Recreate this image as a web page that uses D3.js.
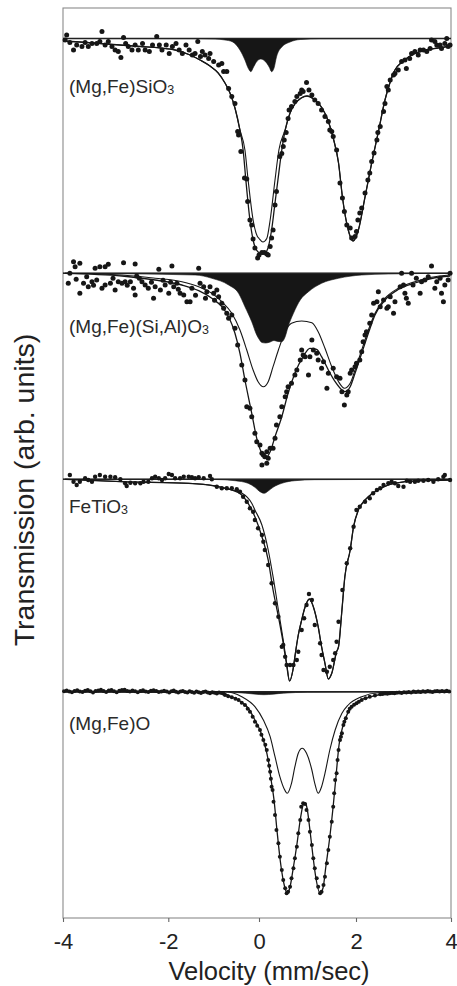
<!DOCTYPE html>
<html><head><meta charset="utf-8">
<script src="https://cdn.jsdelivr.net/npm/d3@7/dist/d3.min.js"></script>
<style>
body{margin:0;background:#fff}
svg{display:block}
text{font-family:"Liberation Sans",Arial,Helvetica,sans-serif}
</style>
</head><body>
<svg id="c" width="457" height="986"></svg>
<script>
// ---------------- DATA ----------------
const velocityTicks = [-4, -2, 0, 2, 4];
const panelLabels = ["(Mg,Fe)SiO", "(Mg,Fe)(Si,Al)O", "FeTiO", "(Mg,Fe)O"];
const panelSubs = ["3", "3", "3", ""];
// vertical stacking offset of each spectrum (arb. units)
const panelBaselines = [879.5, 644.7, 438.7, 226.3];

// Panel 1: (Mg,Fe)SiO3   [velocity mm/s, transmission change arb.]
const p1Dots = [[-3.93,3.5],[-3.96,-1.5],[-3.87,-4],[-3.80,-11.5],[-3.74,-6.5],[-3.64,-8],[-3.58,-4],[-3.52,-8],[-3.45,-5],[-3.36,-5],[-3.30,-3],[-3.26,7],[-3.20,-6.5],[-3.14,-3],[-3.07,-8],[-3.01,-11.5],[-2.95,-13],[-2.90,-19],[-2.85,1],[-2.81,-5],[-2.76,-8],[-2.69,-11.5],[-2.63,-6.5],[-2.57,-11.5],[-2.49,-5],[-2.44,-11.5],[-2.36,-13],[-2.30,-6.5],[-2.22,2],[-2.17,-6.5],[-2.12,-11.5],[-2.04,-6.5],[-1.98,-15],[-1.91,-8],[-1.83,-5],[-1.76,-11.5],[-1.69,-15],[-1.61,-6.5],[-1.54,-11.5],[-1.47,-16.5],[-1.41,-15],[-1.35,-3],[-1.29,-18],[-1.25,-13],[-1.19,-16.5],[-1.11,-20],[-1.08,-15],[-1.00,-23],[-0.89,-26.5],[-0.82,-25],[-0.78,-33],[-0.71,-33],[-0.67,-50],[-0.60,-58],[-0.53,-65],[-0.47,-93],[-0.45,-96.5],[-0.40,-113],[-0.32,-139.5],[-0.27,-140.5],[-0.25,-163],[-0.20,-181.5],[-0.16,-186.5],[-0.13,-200.5],[-0.09,-209.5],[-0.03,-219.5],[0.00,-216.5],[0.06,-214],[0.11,-214],[0.16,-215.5],[0.19,-216.5],[0.23,-208],[0.26,-199.5],[0.29,-191.5],[0.33,-166.5],[0.36,-153],[0.43,-118],[0.47,-115],[0.50,-108],[0.52,-101.5],[0.56,-94],[0.60,-80],[0.62,-71.5],[0.67,-68],[0.74,-63],[0.78,-58],[0.85,-55],[0.88,-51.5],[0.91,-53],[0.98,-44],[1.03,-51.5],[1.09,-56.5],[1.15,-61.5],[1.22,-65],[1.29,-71.5],[1.36,-78],[1.43,-83],[1.46,-91.5],[1.50,-93],[1.53,-98],[1.60,-111.5],[1.67,-144.5],[1.72,-159.5],[1.76,-173],[1.81,-186.5],[1.88,-189.5],[1.91,-199.5],[1.98,-198],[2.01,-193],[2.04,-181.5],[2.08,-174.5],[2.12,-169.5],[2.19,-154.5],[2.25,-141.5],[2.29,-134.5],[2.33,-123],[2.38,-114.5],[2.44,-101.5],[2.46,-94],[2.51,-88],[2.58,-73],[2.61,-65],[2.65,-48],[2.68,-51.5],[2.72,-41.5],[2.79,-36.5],[2.82,-35],[2.89,-31.5],[2.96,-23],[3.03,-21.5],[3.06,-30],[3.13,-20],[3.17,-15],[3.24,-13],[3.31,-16.5],[3.35,-11.5],[3.42,-11.5],[3.49,-13],[3.56,-10],[3.59,-1.5],[3.66,-3],[3.70,-6.5],[3.77,-6.5],[3.80,-10],[3.87,-5],[3.91,0],[3.94,-8],[3.98,-6.5]];
const p1Total = [[-4,-2.5],[-3.68,-3.5],[-3.30,-5],[-2.92,-6.5],[-2.53,-8],[-2.15,-9.5],[-1.85,-11.5],[-1.52,-16.5],[-1.30,-21.5],[-1.08,-27.5],[-0.90,-34.5],[-0.75,-44.5],[-0.64,-54.5],[-0.53,-69.5],[-0.42,-91.5],[-0.35,-111.5],[-0.29,-141.5],[-0.20,-181.5],[-0.13,-201.5],[-0.02,-213.5],[0.08,-215.5],[0.16,-212.5],[0.26,-191.5],[0.33,-164.5],[0.39,-141.5],[0.47,-111.5],[0.54,-91.5],[0.64,-74.5],[0.74,-65.5],[0.87,-59.5],[0.99,-57.5],[1.13,-60.5],[1.30,-69.5],[1.42,-81.5],[1.53,-99.5],[1.64,-124.5],[1.72,-158.5],[1.84,-191.5],[1.94,-202.5],[2.05,-191.5],[2.19,-158.5],[2.33,-124.5],[2.47,-93.5],[2.61,-61.5],[2.72,-43.5],[2.82,-31.5],[2.97,-23.5],[3.14,-17.5],[3.39,-12.5],[3.73,-9.5],[4,-7.5]];
const p1Main = [[-4,-2.5],[-3.68,-3.5],[-3.30,-5],[-2.92,-6.5],[-2.53,-8],[-2.15,-9.5],[-1.85,-11.5],[-1.52,-16.5],[-1.30,-21.5],[-1.08,-27.5],[-0.90,-34.5],[-0.75,-44.5],[-0.64,-54.5],[-0.53,-69.5],[-0.42,-91.5],[-0.31,-111.5],[-0.24,-141.5],[-0.13,-181.5],[-0.04,-197.5],[0.00,-200],[0.08,-203.5],[0.16,-200],[0.23,-181.5],[0.33,-141.5],[0.41,-111.5],[0.54,-91.5],[0.64,-74.5],[0.74,-65.5],[0.87,-59.5],[0.99,-57.5],[1.13,-60.5],[1.30,-69.5],[1.42,-81.5],[1.53,-99.5],[1.64,-124.5],[1.72,-158.5],[1.84,-191.5],[1.94,-202.5],[2.05,-191.5],[2.19,-158.5],[2.33,-124.5],[2.47,-93.5],[2.61,-61.5],[2.72,-43.5],[2.82,-31.5],[2.97,-23.5],[3.14,-17.5],[3.39,-12.5],[3.73,-9.5],[4,-7.5]];
const p1Minor = [[-4,0],[-1.30,-0.2],[-0.97,-0.5],[-0.75,-1.5],[-0.59,-3.2],[-0.42,-11.5],[-0.31,-21.5],[-0.24,-29.5],[-0.18,-33.2],[-0.12,-28.5],[-0.04,-22.5],[0.04,-20.5],[0.12,-22.5],[0.21,-28.5],[0.26,-33.2],[0.31,-29.5],[0.36,-18.5],[0.47,-8.5],[0.64,-3.5],[0.85,-1],[1.26,-0.2],[4,0]];

// Panel 2: (Mg,Fe)(Si,Al)O3
const p2Dots = [[-3.80,11.6],[-3.77,6.6],[-3.68,10],[-3.39,5],[-3.30,6.6],[-3.20,6.6],[-3.14,9],[-2.85,10.6],[-2.63,9.3],[-2.18,4],[-1.92,7.3],[-1.33,5],[3.59,7.3],[-3.90,-10],[-3.87,0],[-3.68,-20],[-3.61,-10],[-3.55,-3.4],[-3.52,-13.4],[-3.45,-8.4],[-3.36,-6.7],[-3.26,-15],[-3.20,-11.7],[-3.10,-10],[-3.01,-16.7],[-2.95,-8.4],[-2.88,-10],[-2.82,-8.4],[-2.72,-8.4],[-2.66,-15],[-2.63,-21.7],[-2.60,-2.7],[-2.50,-8.4],[-2.44,-11.7],[-2.38,-15],[-2.28,-25],[-2.25,-13.4],[-2.15,-16.7],[-2.06,-11.7],[-1.99,-20],[-1.88,-13.4],[-1.81,-10],[-1.74,-20],[-1.66,-21.7],[-1.59,-28.4],[-1.52,-28.4],[-1.48,-15],[-1.22,-13.4],[-1.15,-18.4],[-1.08,-13.4],[-1.00,-20],[-0.93,-16.7],[-0.89,-23.4],[-0.82,-30],[-0.78,-35],[-0.71,-40],[-0.67,-45],[-0.60,-41.7],[-0.53,-55],[-0.47,-71.7],[-0.38,-91.7],[-0.31,-106.7],[-0.27,-133.4],[-0.20,-135],[-0.16,-143.4],[-0.09,-160],[-0.05,-168.4],[0.02,-171.7],[0.06,-180],[0.06,-191.7],[0.09,-181.7],[0.12,-183.4],[0.16,-190],[0.16,-178.4],[0.19,-185],[0.23,-175],[0.29,-175],[0.33,-165],[0.36,-151.7],[0.43,-143.4],[0.47,-133.4],[0.54,-123.4],[0.57,-118.4],[0.60,-113.4],[0.67,-110],[0.74,-101.7],[0.78,-96.7],[0.85,-86.7],[0.88,-76.7],[0.91,-81.7],[0.95,-83.4],[1.02,-101.7],[1.05,-83.4],[1.09,-66.7],[1.12,-76.7],[1.19,-80],[1.22,-86.7],[1.29,-95],[1.33,-88.4],[1.40,-115],[1.43,-100],[1.53,-95],[1.60,-103.4],[1.67,-105],[1.71,-118.4],[1.76,-131.7],[1.81,-121.7],[1.84,-118.4],[1.88,-100],[1.91,-96.7],[1.98,-93.4],[2.01,-90],[2.08,-86.7],[2.12,-78.4],[2.15,-68.4],[2.19,-61.7],[2.22,-58.4],[2.29,-50],[2.33,-41.7],[2.37,-30],[2.44,-28.4],[2.47,-18.4],[2.51,-33.4],[2.58,-26.7],[2.65,-35],[2.68,-33.4],[2.72,-23.4],[2.79,-40],[2.82,-28.4],[2.93,-13.4],[2.96,0],[3.00,-11.7],[3.03,-20],[3.06,-25],[3.10,-30],[3.17,0],[3.20,-11.7],[3.27,-5],[3.35,-20],[3.38,-8.4],[3.45,-6.7],[3.52,-3.4],[3.66,-15],[3.70,-8.4],[3.77,-5],[3.80,-20],[3.84,-28.4],[3.87,-11.7],[3.94,-6.7],[3.98,0],[-3.75,-6],[-3.42,-12],[-3.05,-5],[-2.78,-12],[-2.55,-5],[-2.32,-9],[-2.10,-7],[-1.95,-9],[-1.78,-16],[-1.40,-22],[-1.30,-10],[-1.18,-25],[-0.98,-27]];
const p2Total = [[-3.96,0],[-2.88,-2.7],[-2.25,-6.7],[-1.70,-11.7],[-1.33,-17.4],[-1.04,-25],[-0.82,-33.4],[-0.67,-43.4],[-0.53,-60],[-0.42,-80],[-0.31,-106.7],[-0.16,-140],[-0.05,-165],[0.06,-180],[0.14,-184.2],[0.23,-178.4],[0.33,-163.4],[0.47,-143.4],[0.60,-120],[0.74,-100],[0.91,-83.4],[1.05,-75],[1.19,-76],[1.29,-83.4],[1.43,-96.7],[1.57,-108.4],[1.71,-116.7],[1.77,-118.4],[1.88,-113.4],[1.98,-100],[2.12,-80],[2.26,-60],[2.40,-41.7],[2.61,-26.7],[2.89,-16.2],[3.24,-9.7],[3.59,-5.2],[3.98,-2.7]];
const p2Main = [[-3.96,0],[-2.88,-1.7],[-2.25,-5],[-1.70,-8.4],[-1.33,-13.4],[-1.04,-20],[-0.82,-28.4],[-0.60,-40],[-0.42,-56.7],[-0.27,-76.7],[-0.13,-96.7],[-0.02,-108.4],[0.09,-113.4],[0.19,-108.4],[0.29,-93.4],[0.40,-76.7],[0.54,-58.4],[0.67,-50],[0.88,-47.7],[1.09,-49.4],[1.22,-58.4],[1.36,-75],[1.50,-93.4],[1.64,-108.4],[1.76,-115],[1.88,-110],[1.98,-96.7],[2.12,-76.7],[2.26,-56.7],[2.40,-40],[2.61,-25],[2.89,-15],[3.24,-8.4],[3.59,-4],[3.98,-1.7]];
const p2Minor = [[-4,0],[-1.41,-1.7],[-1.04,-5],[-0.67,-11.7],[-0.45,-20],[-0.31,-33.4],[-0.16,-48.4],[-0.05,-61.7],[0,-65.7],[0.06,-69.2],[0.14,-69.7],[0.23,-68.7],[0.31,-67.2],[0.39,-68.2],[0.47,-68.4],[0.54,-63.4],[0.60,-53.4],[0.71,-40],[0.85,-26.7],[1.02,-18.4],[1.29,-10],[1.64,-5],[2.12,-1.7],[2.68,-0.7],[4,0]];

// Panel 3: FeTiO3
const p3Dots = [[-3.87,4.3],[-3.80,-2.4],[-3.74,-5.7],[-3.68,-2.4],[-3.58,1],[-3.52,-0.7],[-3.45,-2.4],[-3.39,2.6],[-3.30,4.3],[-3.20,2.6],[-3.10,2.6],[-3.01,2],[-2.91,0],[-2.82,-4],[-2.79,-6.7],[-2.72,-3.4],[-2.63,-4],[-2.53,-4],[-2.47,-2.4],[-2.38,-2.4],[-2.31,1],[-2.25,2.6],[-2.18,1],[-2.12,-0.7],[-2.06,1],[-1.99,5.3],[-1.92,4.3],[-1.85,1],[-1.74,1],[-1.66,2.6],[-1.55,2.6],[-1.48,2],[-1.41,1],[-1.33,2],[-1.22,1],[-1.08,3.3],[-1.04,0],[-0.93,-7.4],[-0.82,-9],[-0.71,-9],[-0.60,-9],[-0.49,-10],[-0.42,-12.4],[-0.35,-17.4],[-0.27,-22.4],[-0.20,-29],[-0.13,-32.4],[-0.09,-40.7],[-0.02,-49],[0.06,-55.7],[0.09,-62.4],[0.12,-70.7],[0.19,-85.7],[0.26,-104],[0.33,-124],[0.40,-137.4],[0.47,-167.4],[0.50,-165.7],[0.54,-177.4],[0.57,-185.7],[0.64,-185.7],[0.71,-185.7],[0.78,-180.7],[0.81,-172.4],[0.88,-150.7],[0.93,-139],[0.98,-125.7],[1.03,-114.7],[1.09,-120.7],[1.15,-145.7],[1.26,-164],[1.29,-175.7],[1.33,-190.7],[1.40,-192.4],[1.46,-187.4],[1.53,-180.7],[1.57,-174],[1.60,-162.4],[1.64,-142.4],[1.72,-110.7],[1.81,-84],[1.88,-69],[1.95,-47.4],[2.01,-30.7],[2.08,-27.4],[2.19,-22.4],[2.29,-19],[2.36,-14],[2.44,-10.7],[2.51,-9],[2.58,-5.7],[2.68,-4],[2.75,-2.4],[2.82,-4],[2.89,-6.7],[3.00,-7.4],[3.07,-1.4],[3.14,-2.4],[3.24,-2.4],[3.31,-1.4],[3.42,-1.4],[3.52,-0.7],[3.63,-2.4],[3.73,0],[3.84,2.6],[3.87,4.3],[3.98,-0.7]];
const p3Total = [[-3.96,0],[-2.88,-2.4],[-1.55,-4],[-0.97,-6.7],[-0.60,-10.7],[-0.38,-15.7],[-0.24,-24],[-0.09,-37.4],[0.06,-57.4],[0.19,-80.7],[0.29,-110.7],[0.40,-137.4],[0.50,-164],[0.57,-185.7],[0.63,-201.7],[0.70,-190.7],[0.76,-170.7],[0.81,-155.7],[0.87,-142.7],[0.95,-127.7],[1.04,-119.7],[1.12,-127.4],[1.22,-147.4],[1.29,-167.4],[1.36,-184],[1.43,-199.7],[1.50,-194],[1.60,-172.4],[1.64,-167.4],[1.71,-130.7],[1.77,-97.4],[1.88,-70.7],[1.95,-47.4],[2.05,-30.7],[2.19,-20.7],[2.40,-12.4],[2.68,-5.7],[3.03,-2.4],[3.38,-1.4],[3.98,-0.7]];
const p3Main = [[-3.96,0],[-2.88,-2.4],[-1.55,-4],[-0.97,-6.7],[-0.60,-10.7],[-0.38,-13.7],[-0.16,-24],[-0.09,-30.7],[0.06,-45.7],[0.19,-70.7],[0.29,-97.4],[0.40,-130.7],[0.50,-160.7],[0.57,-183.7],[0.63,-201.7],[0.70,-190.7],[0.76,-170.7],[0.81,-155.7],[0.87,-142.7],[0.95,-127.7],[1.04,-119.7],[1.12,-127.4],[1.22,-147.4],[1.29,-167.4],[1.36,-184],[1.43,-199.7],[1.50,-194],[1.60,-172.4],[1.64,-167.4],[1.71,-130.7],[1.77,-97.4],[1.88,-70.7],[1.95,-47.4],[2.05,-30.7],[2.19,-20.7],[2.40,-12.4],[2.68,-5.7],[3.03,-2.4],[3.38,-1.4],[3.98,-0.7]];
const p3Minor = [[-4,0],[-0.97,-0.2],[-0.53,-1.4],[-0.24,-4],[-0.09,-8],[0.02,-12.4],[0.11,-14],[0.19,-11.7],[0.29,-8],[0.47,-4],[0.74,-1.4],[1.15,-0.4],[4,0]];

// Panel 4: (Mg,Fe)O
const p4Dots = [[-3.98,0.5],[-3.93,1.2],[-3.88,0.3],[-3.83,-0.6],[-3.78,0.8],[-3.73,1.5],[-3.68,0.2],[-3.63,-0.4],[-3.58,0.9],[-3.53,1.6],[-3.48,0.4],[-3.43,-0.8],[-3.38,0.6],[-3.33,1.3],[-3.28,2.0],[-3.23,0.7],[-3.18,-0.3],[-3.13,1.1],[-3.08,1.8],[-3.03,0.5],[-2.98,-0.5],[-2.93,0.9],[-2.88,1.6],[-2.83,1.9],[-2.78,0.8],[-2.73,0.1],[-2.68,1.2],[-2.63,0.4],[-2.58,-0.6],[-2.53,0.7],[-2.48,1.4],[-2.43,0.3],[-2.38,-0.2],[-2.33,0.9],[-2.28,1.5],[-2.23,0.6],[-2.18,-0.4],[-2.13,0.3],[-2.08,1.0],[-2.03,0.2],[-1.98,-0.7],[-1.93,0.4],[-1.88,1.1],[-1.83,0.0],[-1.78,-0.9],[-1.73,0.3],[-1.68,0.8],[-1.63,-0.2],[-1.58,-0.8],[-1.53,0.5],[-1.48,-0.3],[-1.43,-1.0],[-1.38,0.2],[-1.33,-0.5],[-1.28,-1.2],[-1.23,-0.4],[-1.18,0.1],[-1.13,-0.9],[-1.08,-1.5],[-1.03,-0.6],[-0.98,-1.1],[-0.93,-1.8],[-0.88,-0.8],[-0.83,-1.4],[-0.78,-2.0],[-0.75,-3.3],[-0.68,-4.5],[-0.60,-5.6],[-0.52,-7],[-0.45,-8.3],[-0.38,-11],[-0.31,-13.3],[-0.25,-17],[-0.20,-20],[-0.14,-25],[-0.09,-30],[-0.04,-34],[0.02,-38.3],[0.05,-43],[0.09,-48.3],[0.13,-53],[0.16,-58.3],[0.19,-68.3],[0.21,-74],[0.23,-80],[0.245,-87],[0.26,-95],[0.28,-98.3],[0.30,-110],[0.33,-123.3],[0.36,-138.3],[0.40,-151.6],[0.43,-165],[0.47,-178.3],[0.50,-188.3],[0.54,-196.6],[0.57,-201.6],[0.60,-200],[0.64,-195],[0.67,-186.6],[0.71,-176.6],[0.74,-166.6],[0.78,-155],[0.81,-141.6],[0.85,-128.3],[0.87,-115],[0.91,-111.6],[0.95,-112.3],[0.98,-118.3],[1.02,-128.3],[1.05,-140],[1.09,-153.3],[1.12,-166.6],[1.15,-176.6],[1.19,-186.6],[1.22,-195],[1.26,-201.6],[1.29,-200],[1.33,-193.3],[1.36,-185],[1.40,-171.6],[1.43,-158.3],[1.46,-145],[1.50,-130],[1.53,-115],[1.55,-101.6],[1.57,-88.3],[1.60,-81.6],[1.62,-68.3],[1.64,-58.3],[1.67,-48.3],[1.69,-45],[1.71,-41.6],[1.74,-33.3],[1.76,-30],[1.79,-26.6],[1.84,-20],[1.87,-17],[1.91,-15],[1.96,-13],[2.01,-11.6],[2.06,-10],[2.12,-8.3],[2.20,-6.5],[2.29,-5],[2.40,-3.8],[2.51,-2.6],[2.56,-2.2],[2.61,-1.8],[2.66,-2.0],[2.71,-1.5],[2.76,-1.2],[2.81,-1.6],[2.86,-1.0],[2.91,-0.8],[2.96,-1.3],[3.01,-0.5],[3.06,-0.9],[3.11,-0.3],[3.16,-0.7],[3.21,0.1],[3.26,-0.4],[3.31,0.3],[3.36,-0.2],[3.41,0.5],[3.46,0.0],[3.51,0.6],[3.56,0.2],[3.61,-0.3],[3.66,0.4],[3.71,0.8],[3.76,0.1],[3.81,0.6],[3.86,0.3],[3.91,0.9],[3.96,0.2]];
const p4Total = [[-4,0.2],[-0.86,-0.8],[-0.64,-4.3],[-0.42,-9.3],[-0.24,-16.3],[-0.09,-28.3],[0.02,-38.3],[0.12,-53.3],[0.19,-68.3],[0.25,-88.3],[0.31,-108.3],[0.37,-138.3],[0.45,-173.3],[0.52,-193.3],[0.58,-201.3],[0.64,-195.3],[0.70,-178.3],[0.78,-153.3],[0.85,-128.3],[0.91,-113.3],[0.95,-111.3],[0.99,-116.3],[1.05,-138.3],[1.11,-163.3],[1.17,-185.3],[1.26,-201.3],[1.32,-196.3],[1.38,-174.3],[1.46,-145.3],[1.53,-114.3],[1.59,-83.3],[1.65,-53.3],[1.73,-34.3],[1.84,-20.3],[2.00,-11.3],[2.29,-5.3],[2.72,-1.8],[4,-0.3]];
const p4Main = [[-4,0],[-0.75,0],[-0.38,-5],[-0.09,-15],[0.09,-28.3],[0.23,-45],[0.33,-65],[0.43,-85],[0.52,-97.3],[0.58,-101.6],[0.67,-91.6],[0.74,-75],[0.81,-61.6],[0.89,-56.6],[0.98,-61.6],[1.09,-78.3],[1.15,-91.6],[1.22,-101.6],[1.29,-95],[1.36,-81.6],[1.46,-58.3],[1.57,-38.3],[1.71,-21.6],[1.84,-13.3],[2.12,-5],[2.47,-1],[4,0]];
const p4Minor = [[-4,0],[-0.9,0],[-0.3,-1.5],[0.1,-3],[0.5,-1.5],[1.0,-0.5],[4,0]];

const panelDots = [p1Dots, p2Dots, p3Dots, p4Dots];
const panelTotals = [p1Total, p2Total, p3Total, p4Total];
const panelMains = [p1Main, p2Main, p3Main, p4Main];
const panelMinors = [p1Minor, p2Minor, p3Minor, p4Minor];

// ---------------- LAYOUT ----------------
const FONT = '"Liberation Sans", Arial, Helvetica, sans-serif';
const ink = "#161616";
const svg = d3.select("#c");
const x = d3.scaleLinear().domain(velocityTicks).range([63, 168.3, 259, 356, 451]);
const y = d3.scaleLinear().domain([0, 910]).range([918, 8]);
const dotR = [2.5, 2.5, 2.2, 2.0];
const labelDy = [54.5, 59.7, 33.7, 38.3];

// frame
svg.append("rect")
  .attr("x", x(-4)).attr("y", y(910))
  .attr("width", x(4) - x(-4)).attr("height", y(0) - y(910))
  .attr("fill", "none").attr("stroke", "#8a8a8a").attr("stroke-width", 1.1);

panelBaselines.forEach((off, i) => {
  const g = svg.append("g");
  const line = d3.line().x(d => x(d[0])).y(d => y(off + d[1])).curve(d3.curveMonotoneX);
  const area = d3.area().x(d => x(d[0])).y0(y(off)).y1(d => y(off + d[1])).curve(d3.curveMonotoneX);
  g.append("path").datum(panelMinors[i]).attr("d", area).attr("fill", ink).attr("stroke", ink).attr("stroke-width", 0.6);
  g.append("line").attr("x1", x(-4)).attr("x2", x(4)).attr("y1", y(off)).attr("y2", y(off))
    .attr("stroke", "#222").attr("stroke-width", 1.6);
  g.append("path").datum(panelMains[i]).attr("d", line).attr("fill", "none").attr("stroke", ink).attr("stroke-width", 1.1);
  g.append("path").datum(panelTotals[i]).attr("d", line).attr("fill", "none").attr("stroke", ink).attr("stroke-width", 1.3);
  g.selectAll("circle").data(panelDots[i]).join("circle")
    .attr("cx", d => x(d[0])).attr("cy", d => y(off + d[1])).attr("r", dotR[i]).attr("fill", ink);
  const t = g.append("text").attr("x", 69).attr("y", y(off) + labelDy[i])
    .attr("font-size", 19).attr("fill", "#2a2a2a").attr("font-family", FONT);
  t.append("tspan").text(panelLabels[i]);
  if (panelSubs[i]) t.append("tspan").attr("font-size", 12.5).attr("dy", 1).text(panelSubs[i]);
});

// x axis
const ax = svg.append("g").attr("transform", `translate(0,${y(0)})`)
  .call(d3.axisBottom(x).tickValues(velocityTicks).tickSize(4).tickSizeOuter(0).tickPadding(11).tickFormat(d => String(d)));
ax.select(".domain").remove();
ax.attr("font-size", 22).attr("font-family", FONT);
ax.selectAll(".tick line").attr("stroke", "#666").attr("stroke-width", 1.1);
ax.selectAll(".tick text").attr("fill", "#222");

svg.append("text").attr("x", 269).attr("y", 979.5).attr("text-anchor", "middle")
  .attr("font-size", 25.5).attr("fill", "#222").attr("font-family", FONT).text("Velocity (mm/sec)");
svg.append("text").attr("transform", "translate(33.5,490) rotate(-90)").attr("text-anchor", "middle")
  .attr("font-size", 28.5).attr("fill", "#222").attr("font-family", FONT).text("Transmission (arb. units)");
</script>
</body></html>
